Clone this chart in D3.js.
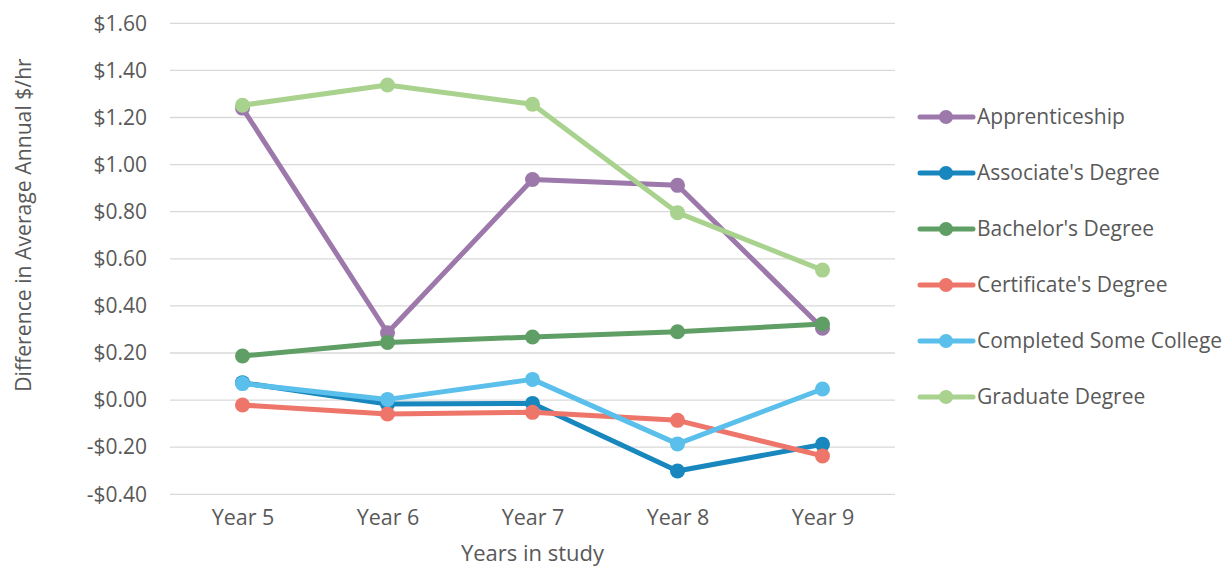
<!DOCTYPE html>
<html>
<head>
<meta charset="utf-8">
<script src="https://cdn.jsdelivr.net/npm/d3@7/dist/d3.min.js"></script>
<style>
  html, body { margin: 0; padding: 0; background: #fff; }
  svg { display: block; font-family: "Open Sans", "Noto Sans", sans-serif; }
</style>
</head>
<body>
<svg id="chart" width="1228" height="569"></svg>
<script>
// Years of the study (x categories)
const years = ["Year 5", "Year 6", "Year 7", "Year 8", "Year 9"];

// Difference in average annual wage ($/hr) by credential
const apprenticeship  = [1.24, 0.286, 0.937, 0.912, 0.305];
const associates      = [0.074, -0.017, -0.014, -0.301, -0.188];
const bachelors       = [0.187, 0.245, 0.268, 0.290, 0.323];
const certificates    = [-0.021, -0.059, -0.052, -0.086, -0.237];
const someCollege     = [0.070, 0.003, 0.088, -0.186, 0.047];
const graduate        = [1.252, 1.338, 1.256, 0.796, 0.552];

const seriesNames  = ["Apprenticeship", "Associate's Degree", "Bachelor's Degree",
                      "Certificate's Degree", "Completed Some College", "Graduate Degree"];
const seriesColors = ["#9d78ab", "#1787bd", "#5f9e64", "#ee756a", "#5bbfeb", "#a8d28d"];
const seriesValues = [apprenticeship, associates, bachelors, certificates, someCollege, graduate];

const yTicks = [-0.4, -0.2, 0, 0.2, 0.4, 0.6, 0.8, 1.0, 1.2, 1.4, 1.6];

const series = seriesNames.map((name, i) => ({
  name, color: seriesColors[i], values: seriesValues[i]
}));

const svg = d3.select("#chart");
const plot = { left: 170, right: 895, top: 23.3, bottom: 494.3 };
const textColor = "#595959";

const x = d3.scalePoint().domain(years).range([plot.left, plot.right]).padding(0.5);
const y = d3.scaleLinear().domain([-0.4, 1.6]).range([plot.bottom, plot.top]);

const fmt = v => (v < 0 ? "-$" : "$") + Math.abs(v).toFixed(2);

// Horizontal gridlines
svg.append("g")
  .selectAll("line")
  .data(yTicks)
  .join("line")
  .attr("x1", plot.left).attr("x2", plot.right)
  .attr("y1", d => y(d)).attr("y2", d => y(d))
  .attr("stroke", "#d9d9d9").attr("stroke-width", 1.3);

// Y axis labels
const yAxis = d3.axisLeft(y).tickValues(yTicks).tickFormat(fmt).tickSize(0).tickPadding(0);
svg.append("g")
  .attr("transform", `translate(147,0)`)
  .call(yAxis)
  .call(g => g.select(".domain").remove())
  .call(g => g.selectAll("text")
    .attr("fill", textColor)
    .style("font-size", "21px")
    .style("font-family", "'Open Sans', sans-serif"));

// X axis labels
const xAxis = d3.axisBottom(x).tickSize(0).tickPadding(0);
svg.append("g")
  .attr("transform", `translate(0,${plot.bottom + 15})`)
  .call(xAxis)
  .call(g => g.select(".domain").remove())
  .call(g => g.selectAll("text")
    .attr("fill", textColor)
    .style("font-size", "21.5px")
    .style("font-family", "'Open Sans', sans-serif"));

// Axis titles
svg.append("text")
  .attr("x", (plot.left + plot.right) / 2).attr("y", 561)
  .attr("text-anchor", "middle")
  .attr("fill", textColor)
  .style("font-size", "22px")
  .text("Years in study");

svg.append("text")
  .attr("transform", `translate(31,${225}) rotate(-90)`)
  .attr("text-anchor", "middle")
  .attr("fill", textColor)
  .style("font-size", "21.2px")
  .text("Difference in Average Annual $/hr");

// Lines and markers
const line = d3.line().x((d, i) => x(years[i])).y(d => y(d));

const sg = svg.append("g")
  .selectAll("g")
  .data(series)
  .join("g");

sg.append("path")
  .attr("d", d => line(d.values))
  .attr("fill", "none")
  .attr("stroke", d => d.color)
  .attr("stroke-width", 5)
  .attr("stroke-linejoin", "round")
  .attr("stroke-linecap", "round");

sg.selectAll("circle")
  .data(d => d.values.map((v, i) => ({ v, i, color: d.color })))
  .join("circle")
  .attr("cx", d => x(years[d.i]))
  .attr("cy", d => y(d.v))
  .attr("r", 7.5)
  .attr("fill", d => d.color);

// Legend
const legend = svg.append("g")
  .selectAll("g")
  .data(series)
  .join("g")
  .attr("transform", (d, i) => `translate(918,${117 + i * 56})`);

legend.append("line")
  .attr("x1", 2).attr("x2", 55)
  .attr("stroke", d => d.color)
  .attr("stroke-width", 5)
  .attr("stroke-linecap", "round");

legend.append("circle")
  .attr("cx", 28).attr("r", 7)
  .attr("fill", d => d.color);

legend.append("text")
  .attr("x", 59).attr("y", 0)
  .attr("dy", "0.35em")
  .attr("fill", textColor)
  .style("font-size", "21px")
  .text(d => d.name);
</script>
</body>
</html>
